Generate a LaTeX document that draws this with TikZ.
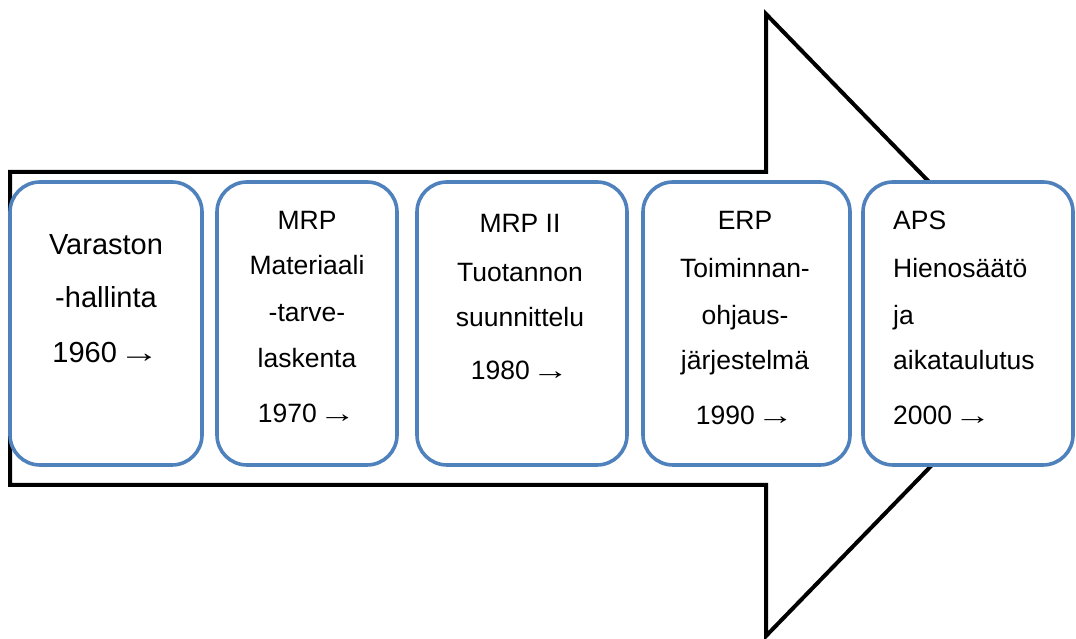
\documentclass[tikz,border=0pt]{standalone}
\usepackage{fontspec}
\setmainfont{Liberation Sans}
\definecolor{boxblue}{HTML}{4F81BD}
\newcommand{\longarr}{\kern2pt\scalebox{1.4}[1]{→}}
\begin{document}
\begin{tikzpicture}[x=1pt,y=1pt,
  box/.style={draw=boxblue, line width=3.6pt, fill=white, rounded corners=30pt, inner sep=0pt},
  txt/.style={anchor=base, inner sep=0pt, font=\fontsize{26.5}{30}\selectfont},
  txtl/.style={anchor=base west, inner sep=0pt, font=\fontsize{26.5}{30}\selectfont},
  txtbig/.style={anchor=base, inner sep=0pt, font=\fontsize{29}{32}\selectfont}]
\useasboundingbox (0,0) rectangle (1076,639);
\begin{scope}
\clip (0,0) rectangle (1076,639);
% big arrow
\draw[line width=4pt, line join=miter] (10,467) -- (766,467) -- (766,625) -- (1068,314) -- (766,3) -- (766,154) -- (10,154) -- cycle;
% boxes
\draw[box] (10,174) rectangle (202,457);
\draw[box] (217,174) rectangle (397,457);
\draw[box] (417,174) rectangle (627,457);
\draw[box] (643,174) rectangle (850,457);
\draw[box] (863,174) rectangle (1073,457);
\end{scope}
% box 1
\node[txtbig] (a1) at (106,384) {Varaston};
\node[txtbig] (a2) at (106,331) {-hallinta};
\node[txtbig] (a3) at (106,276) {1960\longarr};
% box 2
\node[txt] (b1) at (307,409) {MRP};
\node[txt] (b2) at (307,364) {Materiaali};
\node[txt] (b3) at (307,317) {-tarve-};
\node[txt] (b4) at (307,271) {laskenta};
\node[txt] (b5) at (307,216) {1970\longarr};
% box 3
\node[txt] (c1) at (520,406) {MRP II};
\node[txt] (c2) at (520,357) {Tuotannon};
\node[txt] (c3) at (520,312) {suunnittelu};
\node[txt] (c4) at (520,259) {1980\longarr};
% box 4
\node[txt] (d1) at (745,409) {ERP};
\node[txt] (d2) at (745,361) {Toiminnan-};
\node[txt] (d3) at (745,314) {ohjaus-};
\node[txt] (d4) at (745,269) {järjestelmä};
\node[txt] (d5) at (745,214) {1990\longarr};
% box 5
\node[txtl] (e1) at (893,409) {APS};
\node[txtl] (e2) at (893,361) {Hienosäätö};
\node[txtl] (e3) at (893,314) {ja};
\node[txtl] (e4) at (893,269) {aikataulutus};
\node[txtl] (e5) at (893,214) {2000\longarr};
\end{tikzpicture}
\end{document}
